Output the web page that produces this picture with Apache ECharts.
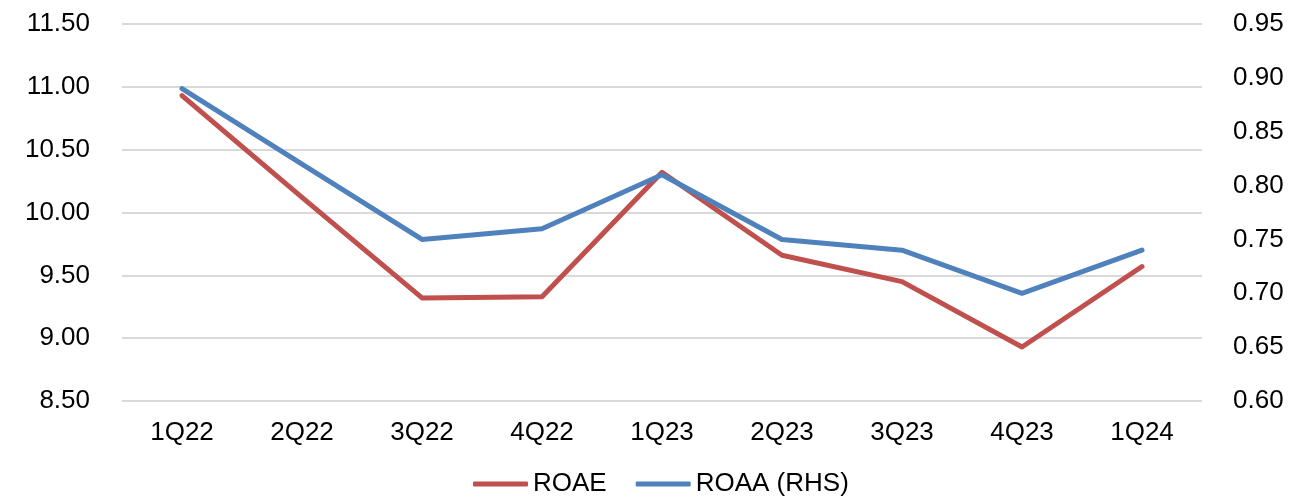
<!DOCTYPE html>
<html>
<head>
<meta charset="utf-8">
<script src="https://cdn.jsdelivr.net/npm/echarts@6/dist/echarts.min.js"></script>
<style>
  html, body { margin: 0; padding: 0; background: #fff; }
  #chart { width: 1295px; height: 503px; }
</style>
</head>
<body>
<div id="chart"></div>
<script>
const quarters = ['1Q22', '2Q22', '3Q22', '4Q22', '1Q23', '2Q23', '3Q23', '4Q23', '1Q24'];
const roae = [10.93, 10.12, 9.32, 9.33, 10.32, 9.66, 9.45, 8.93, 9.57];
const roaa = [0.89, 0.82, 0.75, 0.76, 0.81, 0.75, 0.74, 0.70, 0.74];

const font = 'Liberation Sans, Arial, sans-serif';
const chart = echarts.init(document.getElementById('chart'));

chart.setOption({
  animation: false,
  grid: { left: 122, right: 93, top: 24, bottom: 102 },
  legend: {
    top: 469,
    left: 473,
    padding: 0,
    icon: 'roundRect',
    itemWidth: 55,
    itemHeight: 5,
    itemGap: 29,
    textStyle: { fontFamily: font, fontSize: 26, lineHeight: 30, color: '#000' },
    data: ['ROAE', 'ROAA (RHS)']
  },
  xAxis: {
    type: 'category',
    data: quarters,
    boundaryGap: true,
    axisLine: { show: false },
    axisTick: { show: false },
    axisLabel: { fontFamily: font, fontSize: 26, color: '#000', margin: 19 }
  },
  yAxis: [
    {
      type: 'value',
      min: 8.5,
      max: 11.5,
      interval: 0.5,
      axisLine: { show: false },
      axisTick: { show: false },
      splitLine: { lineStyle: { color: '#d9d9d9', width: 2 } },
      axisLabel: {
        fontFamily: font, fontSize: 26, color: '#000', margin: 32,
        formatter: v => v.toFixed(2)
      }
    },
    {
      type: 'value',
      min: 0.6,
      max: 0.95,
      interval: 0.05,
      axisLine: { show: false },
      axisTick: { show: false },
      splitLine: { show: false },
      axisLabel: {
        fontFamily: font, fontSize: 26, color: '#000', margin: 31,
        formatter: v => v.toFixed(2)
      }
    }
  ],
  series: [
    {
      name: 'ROAE',
      type: 'line',
      yAxisIndex: 0,
      data: roae,
      symbol: 'none',
      lineStyle: { color: '#C0504D', width: 5, cap: 'round', join: 'round' },
      itemStyle: { color: '#C0504D' }
    },
    {
      name: 'ROAA (RHS)',
      type: 'line',
      yAxisIndex: 1,
      data: roaa,
      symbol: 'none',
      lineStyle: { color: '#4F81BD', width: 5, cap: 'round', join: 'round' },
      itemStyle: { color: '#4F81BD' }
    }
  ]
});
</script>
</body>
</html>
